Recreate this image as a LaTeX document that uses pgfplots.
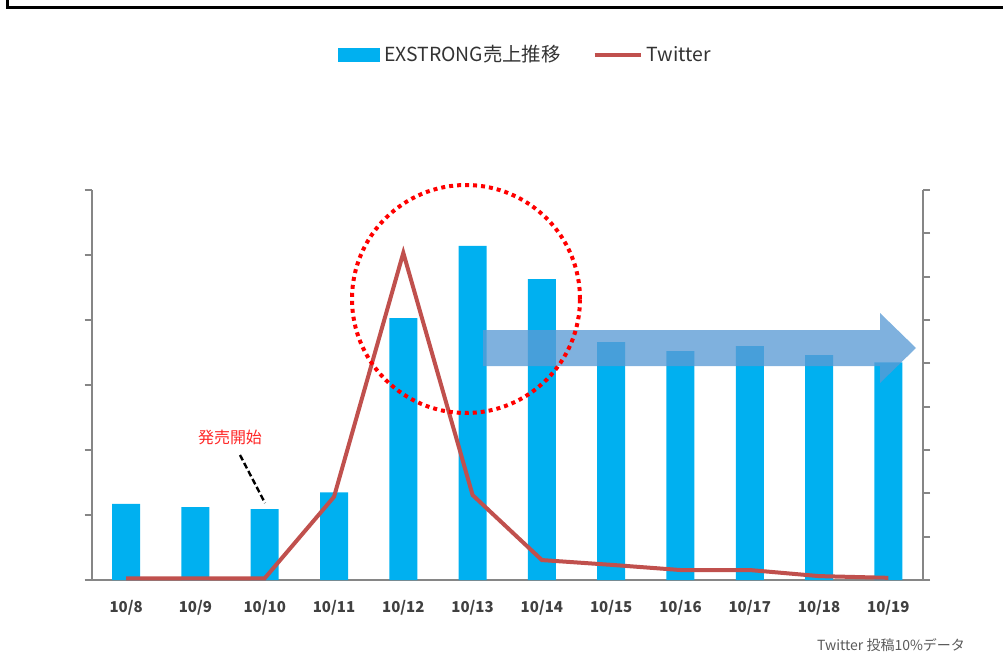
\documentclass[border=0pt]{standalone}
\usepackage{pgfplots}
\pgfplotsset{compat=1.18}
\usepackage{fontspec}
\setmainfont{Noto Sans CJK JP}
\definecolor{barblue}{RGB}{0,176,240}
\definecolor{twred}{RGB}{192,80,77}
\definecolor{axgray}{RGB}{134,134,134}
\definecolor{arrowblue}{RGB}{91,155,213}
\definecolor{txtgray}{RGB}{89,89,89}

\begin{document}
\begin{tikzpicture}
% page frame, 1 px = 0.5pt
\begin{scope}[x=0.5pt,y=0.5pt]
  \useasboundingbox (0,0) rectangle (1003,666);
\end{scope}

\pgfplotsset{
  base/.style={
    at={(45.75pt,43pt)}, anchor=south west,
    scale only axis, width=415.75pt, height=195pt,
    xmin=-0.5, xmax=11.5,
    axis line style={axgray, line width=1pt},
    tick style={axgray, line width=1pt},
    tick align=outside,
    major tick length=3.5pt,
    minor tick length=3.5pt,
  }
}

% sales bars (left axis)
\begin{axis}[
    base,
    axis x line*=bottom, axis y line*=left,
    ymin=0, ymax=6, ytick={0,...,6}, yticklabels={},
    xtick={0,...,11}, xtick style={draw=none},
    minor xtick={-0.5,0.5,...,11.5},
    xticklabels={10/8,10/9,10/10,10/11,10/12,10/13,10/14,10/15,10/16,10/17,10/18,10/19},
    xticklabel style={font=\fontsize{7.5}{8}\selectfont\bfseries, text=black!75, yshift=-3pt},
    legend style={at={(0.523,1.346)}, anchor=center, draw=none, fill=none,
      font=\fontsize{9.7}{11}\selectfont, text=black!80, legend columns=2,
      /tikz/every even column/.append style={column sep=14pt}},
  ]
  \addplot[ybar, bar width=14pt, fill=barblue, draw=none,
    legend image code/.code={\fill[barblue] (0pt,-3.5pt) rectangle (21pt,3.5pt);}]
    coordinates {(0,1.17) (1,1.12) (2,1.09) (3,1.35) (4,4.03) (5,5.14)
                 (6,4.63) (7,3.66) (8,3.52) (9,3.60) (10,3.46) (11,3.35)};
  \addlegendentry{EXSTRONG売上推移}
  \addlegendimage{legend image code/.code={\draw[twred, line width=2pt] (0pt,0pt) -- (23pt,0pt);}}
  \addlegendentry{Twitter}
\end{axis}

% tweets line (right axis)
\begin{axis}[
    base,
    axis x line=none, axis y line*=right,
    ymin=0, ymax=9, ytick={0,...,9}, yticklabels={},
  ]
  \addplot[twred, line width=2pt, mark=none]
    coordinates {(0,0.04) (1,0.04) (2,0.04) (3,1.92) (4,7.55) (5,1.96)
                 (6,0.46) (7,0.35) (8,0.23) (9,0.23) (10,0.09) (11,0.05)};
\end{axis}

\begin{scope}[x=0.5pt,y=0.5pt]
  % frame (clipped at the picture edge)
  \begin{scope}
    \clip (0,0) rectangle (1003,666);
    \draw[black, line width=1.5pt] (7,680) -- (7,658.5) -- (1010,658.5);
  \end{scope}
  % trend arrow
  \fill[arrowblue, fill opacity=0.78]
    (483,336) -- (880,336) -- (880,353) -- (916,318) -- (880,283) -- (880,300) -- (483,300) -- cycle;
  % highlight circle
  \draw[red, line width=2pt, dash pattern=on 2pt off 2pt] (466,367) circle (114);
  % launch note
  \node[text=red!85, font=\fontsize{8}{9}\selectfont] at (230,229) {発売開始};
  \draw[black, line width=1.2pt, dash pattern=on 3pt off 1.5pt] (240,211) -- (265,163);
  % source note
  \node[anchor=east, text=txtgray, font=\fontsize{7}{8}\selectfont] at (972,21) {Twitter 投稿10\%データ};
\end{scope}
\end{tikzpicture}
\end{document}
